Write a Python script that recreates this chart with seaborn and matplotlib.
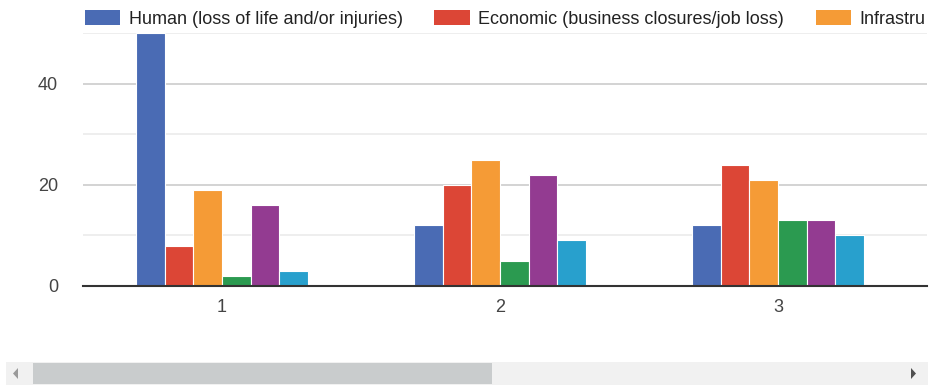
import pandas as pd
import numpy as np
import matplotlib.pyplot as plt
import seaborn as sns
from matplotlib.patches import Rectangle, Polygon

# data
groups = ['1', '2', '3']
series = ['Human (loss of life and/or injuries)',
          'Economic (business closures/job loss)',
          'Infrastru',
          'Series 4', 'Series 5', 'Series 6']
human = [50, 12, 12]
economic = [8, 20, 24]
infrastructure = [19, 25, 21]
series4 = [2, 5, 13]
series5 = [16, 22, 13]
series6 = [3, 9, 10]
colors = ['#4a6bb4', '#dc4636', '#f59b36', '#2b9a50', '#933b91', '#28a0cd']

# long format for seaborn
values = [human, economic, infrastructure, series4, series5, series6]
df = pd.DataFrame([(g, s, v[i]) for s, v in zip(series, values) for i, g in enumerate(groups)],
                  columns=['group', 'series', 'value'])

sns.set_style('white')
plt.rcParams['font.family'] = ['Liberation Sans', 'DejaVu Sans']

fig = plt.figure(figsize=(9.31, 3.86), dpi=100)
ax = fig.add_axes([83/931, 1 - 286/386, 844/931, 253/386])

sns.barplot(data=df, x='group', y='value', hue='series', palette=colors, saturation=1,
            width=0.62, edgecolor='white', linewidth=0.8, ax=ax, legend=False)

ax.set_xlim(-0.5, 2.536)
ax.set_ylim(0, 50)
ax.set_yticks([0, 20, 40])
ax.set_yticks([10, 30, 50], minor=True)
ax.grid(axis='y', which='major', color='#cccccc', linewidth=1.2)
ax.grid(axis='y', which='minor', color='#ebebeb', linewidth=1.2)
ax.set_axisbelow(True)
ax.tick_params(axis='both', length=0, labelsize=13, labelcolor='#444444')
ax.tick_params(axis='y', pad=18)
ax.tick_params(axis='x', pad=9)
ax.set_xlabel('')
ax.set_ylabel('')
for side in ['top', 'right', 'left']:
    ax.spines[side].set_visible(False)
ax.spines['bottom'].set_color('#333333')
ax.spines['bottom'].set_linewidth(1.5)
ax.set_zorder(1)

# legend (only first three entries are visible, chart is scrolled)
handles = [Rectangle((0, 0), 1, 1, facecolor=c, edgecolor='none') for c in colors[:3]]
leg = fig.legend(handles, series[:3], ncol=3, loc='center left',
                 bbox_to_anchor=(85/931, 1 - 19/386), frameon=False,
                 fontsize=13, handlelength=1.95, handleheight=0.85,
                 handletextpad=0.48, columnspacing=1.75, borderpad=0, borderaxespad=0)
for t in leg.get_texts():
    t.set_color('#222222')

# horizontal scrollbar under the chart
W, H = 931, 386
def px(x, y):
    return (x / W, 1 - y / H)

fig.add_artist(Rectangle(px(6, 385), 922/W, 23/H, transform=fig.transFigure,
                         facecolor='#f1f1f1', edgecolor='none'))
fig.add_artist(Rectangle(px(33, 384), 459/W, 21/H, transform=fig.transFigure,
                         facecolor='#c9cccd', edgecolor='none'))
fig.add_artist(Polygon([px(18, 368), px(18, 379), px(13, 373.5)], closed=True,
                       transform=fig.transFigure, facecolor='#9a9a9a', edgecolor='none'))
fig.add_artist(Polygon([px(911, 368), px(911, 379), px(916, 373.5)], closed=True,
                       transform=fig.transFigure, facecolor='#505050', edgecolor='none'))

plt.savefig('out.png', dpi=100)
